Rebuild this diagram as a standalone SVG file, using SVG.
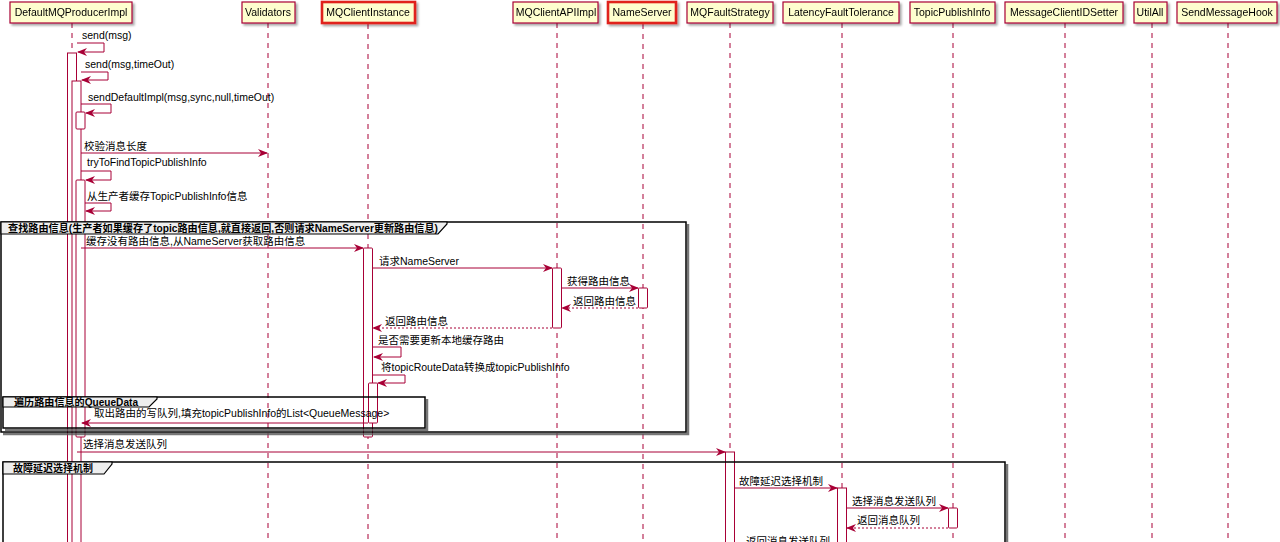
<svg xmlns="http://www.w3.org/2000/svg" width="1280" height="542" viewBox="0 0 1280 542">
<style>
text{font-family:"Liberation Sans",Arial,"Noto Sans CJK SC",sans-serif;font-size:10.5px;fill:#000}
.pbox{fill:#FEFECE;stroke:#A80036;stroke-width:1.2}
.hot{fill:#FEFECE;stroke:#E0201A;stroke-width:2.6}
.life{stroke:#A80036;stroke-width:1;stroke-dasharray:5,5}
.act{fill:#FFFFFF;stroke:#A80036;stroke-width:1}
.msg{fill:none;stroke:#A80036;stroke-width:1}
.ret{fill:none;stroke:#A80036;stroke-width:1;stroke-dasharray:2,2}
.frame{fill:none;stroke:#000;stroke-width:1.5}
.fshadow{fill:none;stroke:#555;stroke-width:2.5;opacity:0.8}
.tab{fill:#EEEEEE;stroke:#000;stroke-width:1.2}
.ttl{font-weight:bold;font-size:10px}
</style>
<defs>
<marker id="ah" markerWidth="10" markerHeight="8" refX="9" refY="4" orient="auto" markerUnits="userSpaceOnUse">
<path d="M0,0 L10,4 L0,8 L3,4 z" fill="#A80036"/>
</marker>
<filter id="sh" x="-10%" y="-10%" width="130%" height="150%">
<feDropShadow dx="2" dy="2" stdDeviation="1.2" flood-color="#000" flood-opacity="0.35"/>
</filter>
</defs>
<rect width="1280" height="542" fill="#FFFFFF"/>

<!-- lifelines -->
<g id="lifelines">
<line class="life" x1="72" y1="23" x2="72" y2="542"/>
<line class="life" x1="268" y1="23" x2="268" y2="542"/>
<line class="life" x1="368" y1="24" x2="368" y2="542"/>
<line class="life" x1="557" y1="23" x2="557" y2="542"/>
<line class="life" x1="643" y1="24" x2="643" y2="542"/>
<line class="life" x1="730" y1="23" x2="730" y2="542"/>
<line class="life" x1="842" y1="23" x2="842" y2="542"/>
<line class="life" x1="953" y1="23" x2="953" y2="542"/>
<line class="life" x1="1065" y1="23" x2="1065" y2="542"/>
<line class="life" x1="1152" y1="23" x2="1152" y2="542"/>
<line class="life" x1="1228" y1="23" x2="1228" y2="542"/>
</g>

<!-- participants -->
<g id="p-DefaultMQProducerImpl" filter="url(#sh)"><rect class="pbox" x="10" y="2" width="122" height="21"/><text x="71" y="16" text-anchor="middle">DefaultMQProducerImpl</text></g>
<g id="p-Validators" filter="url(#sh)"><rect class="pbox" x="242" y="2" width="53" height="21"/><text x="268" y="16" text-anchor="middle">Validators</text></g>
<g id="p-MQClientInstance" filter="url(#sh)"><rect class="hot" x="322" y="2" width="93" height="21"/><text x="368" y="16" text-anchor="middle">MQClientInstance</text></g>
<g id="p-MQClientAPIImpl" filter="url(#sh)"><rect class="pbox" x="513" y="2" width="85" height="21"/><text x="556" y="16" text-anchor="middle">MQClientAPIImpl</text></g>
<g id="p-NameServer" filter="url(#sh)"><rect class="hot" x="608" y="2" width="68" height="21"/><text x="642" y="16" text-anchor="middle">NameServer</text></g>
<g id="p-MQFaultStrategy" filter="url(#sh)"><rect class="pbox" x="687" y="2" width="86" height="21"/><text x="730" y="16" text-anchor="middle">MQFaultStrategy</text></g>
<g id="p-LatencyFaultTolerance" filter="url(#sh)"><rect class="pbox" x="783" y="2" width="116" height="21"/><text x="841" y="16" text-anchor="middle">LatencyFaultTolerance</text></g>
<g id="p-TopicPublishInfo" filter="url(#sh)"><rect class="pbox" x="910" y="2" width="85" height="21"/><text x="952" y="16" text-anchor="middle">TopicPublishInfo</text></g>
<g id="p-MessageClientIDSetter" filter="url(#sh)"><rect class="pbox" x="1005" y="2" width="118" height="21"/><text x="1064" y="16" text-anchor="middle">MessageClientIDSetter</text></g>
<g id="p-UtilAll" filter="url(#sh)"><rect class="pbox" x="1134" y="2" width="33" height="21"/><text x="1150" y="16" text-anchor="middle">UtilAll</text></g>
<g id="p-SendMessageHook" filter="url(#sh)"><rect class="pbox" x="1177" y="2" width="100" height="21"/><text x="1227" y="16" text-anchor="middle">SendMessageHook</text></g>

<!-- activations -->
<g id="activations">
<rect class="act" x="67.5" y="53" width="9" height="495"/>
<rect class="act" x="72" y="81" width="9" height="467"/>
<rect class="act" x="76" y="112" width="9" height="17" rx="1"/>
<rect class="act" x="76" y="180" width="9" height="257" rx="1"/>
<rect class="act" x="363.5" y="248" width="9" height="189" rx="1"/>
<rect class="act" x="368.5" y="383" width="9" height="40" rx="1"/>
<rect class="act" x="552.5" y="268" width="9" height="60" rx="1"/>
<rect class="act" x="638.5" y="288" width="9" height="20" rx="1"/>
<rect class="act" x="725.5" y="452" width="9" height="96"/>
<rect class="act" x="837.5" y="488" width="9" height="60"/>
<rect class="act" x="948.5" y="508" width="9" height="20" rx="1"/>
</g>

<!-- frames -->
<g id="frame-lookup">
<polyline class="fshadow" points="688,224 688,434 3,434"/>
<rect class="frame" x="1" y="222" width="685" height="210"/>
<path class="tab" d="M1,222 H447 V224 L438,234 H1 Z"/>
<text class="ttl" x="8" y="231.5" textLength="430" lengthAdjust="spacingAndGlyphs">查找路由信息(生产者如果缓存了topic路由信息,就直接返回,否则请求NameServer更新路由信息)</text>
</g>
<g id="frame-queue">
<polyline class="fshadow" points="427,399 427,430 5,430"/>
<rect class="frame" x="3" y="397" width="422" height="31"/>
<path class="tab" d="M3,397 H157 V399 L149,407 H3 Z"/>
<text class="ttl" x="14" y="405.5" textLength="124" lengthAdjust="spacingAndGlyphs">遍历路由信息的QueueData</text>
</g>
<g id="frame-fault">
<polyline class="fshadow" points="1007,464 1007,560"/>
<rect class="frame" x="3" y="462" width="1002" height="100"/>
<path class="tab" d="M3,462 H112 V464 L104,474 H3 Z"/>
<text class="ttl" x="13" y="471.5">故障延迟选择机制</text>
</g>

<!-- connectors -->
<g id="connectors">
<polyline class="msg" points="77,43 104,43 104,52 78,52" marker-end="url(#ah)"/>
<text x="82" y="39">send(msg)</text>
<polyline class="msg" points="81,72 108,72 108,80 82,80" marker-end="url(#ah)"/>
<text x="85" y="68">send(msg,timeOut)</text>
<polyline class="msg" points="81,104 111,104 111,113 86,113" marker-end="url(#ah)"/>
<text x="88" y="101">sendDefaultImpl(msg,sync,null,timeOut)</text>
<line class="msg" x1="81" y1="153" x2="267" y2="153" marker-end="url(#ah)"/>
<text x="84" y="150">校验消息长度</text>
<polyline class="msg" points="81,171 111,171 111,180 86,180" marker-end="url(#ah)"/>
<text x="87" y="166">tryToFindTopicPublishInfo</text>
<polyline class="msg" points="85,203 111,203 111,211 86,211" marker-end="url(#ah)"/>
<text x="87" y="200">从生产者缓存TopicPublishInfo信息</text>

<line class="msg" x1="81" y1="248" x2="363" y2="248" marker-end="url(#ah)"/>
<text x="86" y="245">缓存没有路由信息,从NameServer获取路由信息</text>
<line class="msg" x1="373" y1="268" x2="552" y2="268" marker-end="url(#ah)"/>
<text x="379" y="265">请求NameServer</text>
<line class="msg" x1="562" y1="288" x2="638" y2="288" marker-end="url(#ah)"/>
<text x="567" y="285">获得路由信息</text>
<line class="ret" x1="638" y1="308" x2="562" y2="308" marker-end="url(#ah)"/>
<text x="573" y="305">返回路由信息</text>
<line class="ret" x1="552" y1="328" x2="373" y2="328" marker-end="url(#ah)"/>
<text x="385" y="325">返回路由信息</text>
<polyline class="msg" points="373,347 401,347 401,357 374,357" marker-end="url(#ah)"/>
<text x="378" y="344">是否需要更新本地缓存路由</text>
<polyline class="msg" points="373,375 405,375 405,383 378,383" marker-end="url(#ah)"/>
<text x="381" y="371">将topicRouteData转换成topicPublishInfo</text>
<line class="msg" x1="368" y1="423" x2="82" y2="423" marker-end="url(#ah)"/>
<text x="94" y="417">取出路由的写队列,填充topicPublishInfo的List&lt;QueueMessage&gt;</text>

<line class="msg" x1="77" y1="452" x2="725" y2="452" marker-end="url(#ah)"/>
<text x="83" y="448">选择消息发送队列</text>
<line class="msg" x1="735" y1="488" x2="837" y2="488" marker-end="url(#ah)"/>
<text x="739" y="485">故障延迟选择机制</text>
<line class="msg" x1="847" y1="508" x2="948" y2="508" marker-end="url(#ah)"/>
<text x="852" y="505">选择消息发送队列</text>
<line class="ret" x1="948" y1="528" x2="847" y2="528" marker-end="url(#ah)"/>
<text x="857" y="524">返回消息队列</text>
<text x="746" y="545">返回消息发送队列</text>
</g>
</svg>
